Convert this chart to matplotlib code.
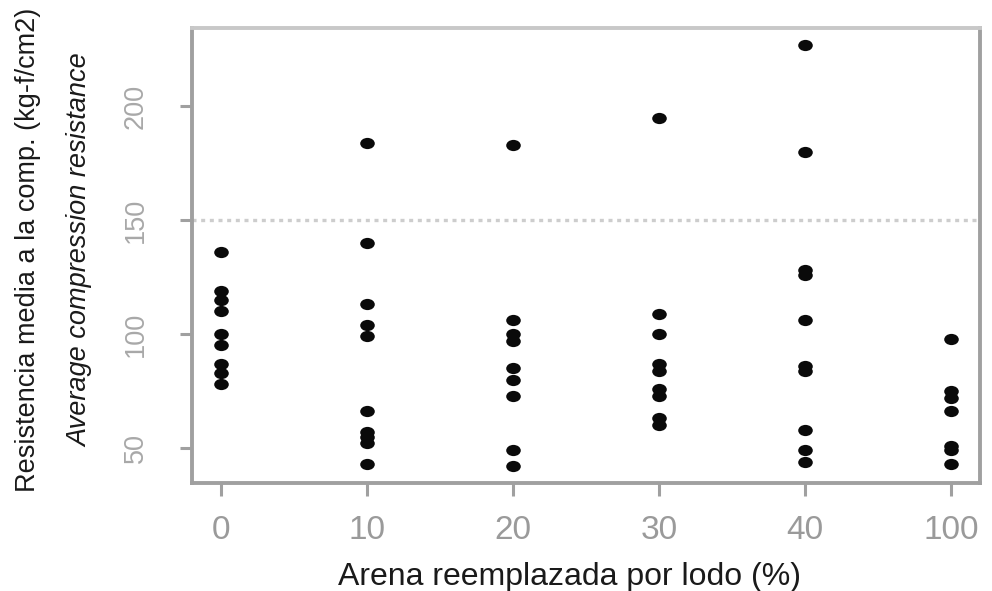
import matplotlib.pyplot as plt
from matplotlib.path import Path
from matplotlib.transforms import Affine2D

# categories on the x axis (sand replaced by sludge, %)
categories = ['0', '10', '20', '30', '40', '100']

# compression resistance readings per category (kg-f/cm2)
vals_0 = [136, 119, 115, 110, 100, 95, 87, 83, 78]
vals_10 = [184, 140, 113, 104, 99, 66, 57, 55, 52, 43]
vals_20 = [183, 106, 100, 97, 85, 80, 73, 49, 42]
vals_30 = [195, 109, 100, 87, 84, 76, 73, 63, 60]
vals_40 = [227, 180, 128, 126, 106, 86, 84, 58, 49, 44]
vals_100 = [98, 75, 72, 66, 51, 49, 43]

y_ticks = [50, 100, 150, 200]
ref_line = 150

all_vals = [vals_0, vals_10, vals_20, vals_30, vals_40, vals_100]

plt.rcParams['font.family'] = ['Liberation Sans', 'DejaVu Sans']

fig = plt.figure(figsize=(9.92, 5.91), dpi=100)
ax = fig.add_axes([192 / 992, 1 - 483 / 591, (980 - 192) / 992, (483 - 28) / 591])

# slightly wide dot, like the stretched original
dot = Path.unit_circle().transformed(Affine2D().scale(1.3, 1.0))

for i, vals in enumerate(all_vals):
    ax.plot([i + 1] * len(vals), vals, linestyle='none', marker=dot,
            markersize=10.5, color='#0a0a0a', markeredgewidth=0)

ax.axhline(ref_line, color='#cdcdcd', linewidth=2.4, linestyle=(0, (1.2, 1.4)), zorder=0)

# R-style 4% padding
lo, hi = min(min(v) for v in all_vals), max(max(v) for v in all_vals)
pad = (hi - lo) * 0.04
ax.set_ylim(lo - pad, hi + pad)
ax.set_xlim(1 - 0.2, len(categories) + 0.2)

ax.set_xticks(range(1, len(categories) + 1))
ax.set_xticklabels(categories)
ax.set_yticks(y_ticks)
ax.set_yticklabels([str(t) for t in y_ticks], rotation=90, va='center')

gray = '#a0a0a0'
for side in ['left', 'bottom', 'right', 'top']:
    ax.spines[side].set_color(gray)
    ax.spines[side].set_linewidth(2.8)
ax.spines['top'].set_color('#c8c8c8')

ax.tick_params(axis='x', colors=gray, width=2.2, length=9, pad=14, labelsize=24, labelcolor='#9a9a9a')
ax.tick_params(axis='y', colors=gray, width=2.2, length=9, pad=22, labelsize=19.5, labelcolor='#a8a8a8')

fig.text(28 / 992, 1 - 250 / 591, 'Resistencia media a la comp. (kg-f/cm2)',
         rotation=90, ha='center', va='center', fontsize=19.5, color='#1a1a1a')
fig.text(80 / 992, 1 - 250 / 591, 'Average compression resistance',
         rotation=90, ha='center', va='center', fontsize=19.5, style='italic', color='#1a1a1a')
fig.text(570 / 992, 1 - 585 / 591, 'Arena reemplazada por lodo (%)',
         ha='center', va='baseline', fontsize=23, color='#1a1a1a')

fig.savefig('out.png', dpi=100)
